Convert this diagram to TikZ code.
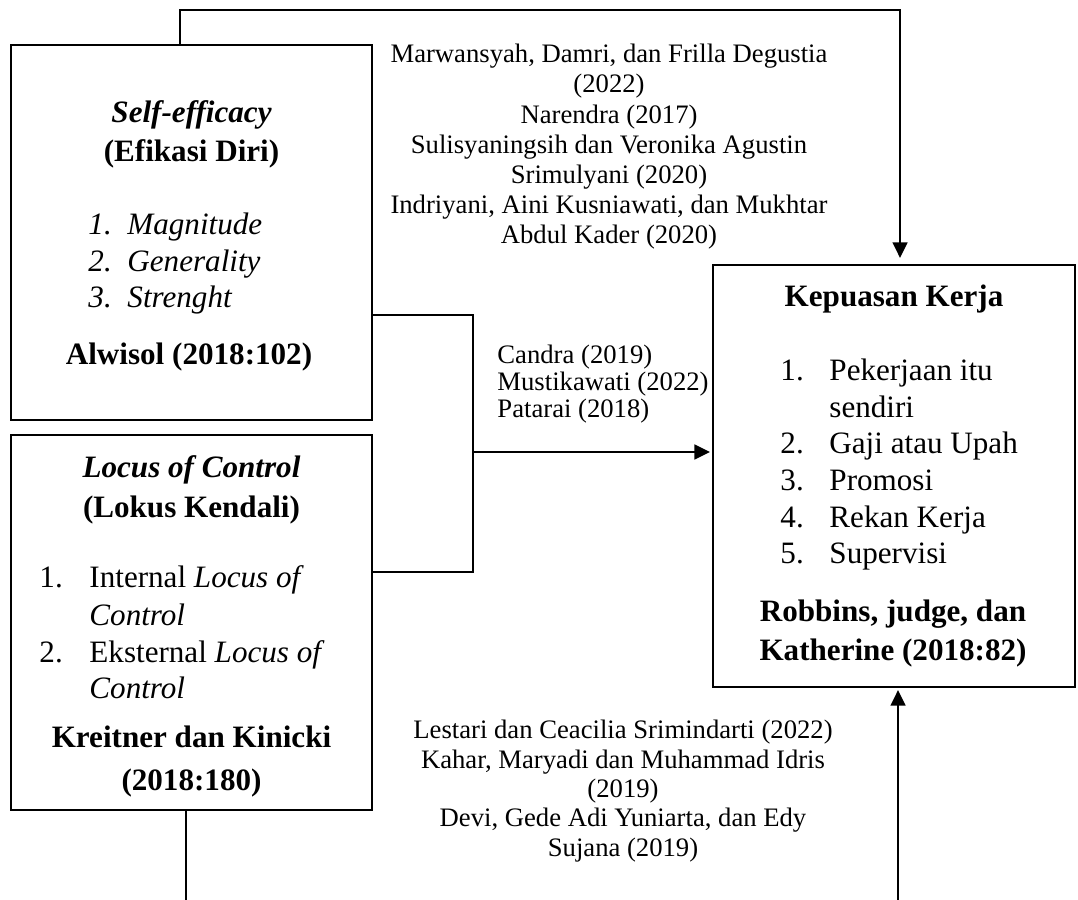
\documentclass[tikz,border=0pt]{standalone}
\usepackage{fontspec}
\setmainfont{Liberation Serif}
\usetikzlibrary{arrows.meta,positioning}

\tikzset{
  box/.style={draw,line width=1.3pt,inner sep=0pt},
  link/.style={line width=1.3pt},
  arr/.style={link,-{Triangle[length=7pt,width=6.5pt]}},
  big/.style={font=\fontsize{14}{16.65}\selectfont,inner sep=0pt},
  cite/.style={font=\fontsize{12}{13.6}\selectfont,inner sep=0pt},
}

\begin{document}
\begin{tikzpicture}
  [x=0.45pt,y=-0.45pt]
  \useasboundingbox (0,0) rectangle (1078,900);

  % boxes
  \node (se) [box,minimum width=162.45pt,minimum height=168.75pt] at (191.5,232.5) {};
  \node (lk) [box,minimum width=162.45pt,minimum height=168.75pt] at (191.5,622.5) {};
  \node (kk) [box,minimum width=162.9pt,minimum height=189.9pt] at (894,476) {};

  % self-efficacy
  \node (se1) [big,anchor=base] at (191.5,123) {\bfseries\itshape Self-efficacy};
  \node (se2) [big,anchor=base] at (191.5,162) {\bfseries (Efikasi Diri)};
  \foreach \n/\t/\y in {1/Magnitude/235,2/Generality/272,3/Strenght/308}{
    \node (sn\n) [big,anchor=base west] at (88,\y) {\itshape\n.};
    \node (st\n) [big,anchor=base west] at (127,\y) {\itshape\t};
  }
  \node (se3) [big,anchor=base] at (189,365) {\bfseries Alwisol (2018:102)};

  % locus of control
  \node (lk1) [big,anchor=base] at (191.5,477) {\bfseries\itshape Locus of Control};
  \node (lk2) [big,anchor=base] at (191.5,517) {\bfseries (Lokus Kendali)};
  \node (ln1) [big,anchor=base west] at (39,587) {1.};
  \node (lt1) [big,anchor=base west] at (89,587) {Internal \textit{Locus of}};
  \node (lc1) [big,anchor=base west] at (89,625) {\textit{Control}};
  \node (ln2) [big,anchor=base west] at (39,662) {2.};
  \node (lt2) [big,anchor=base west] at (89,662) {Eksternal \textit{Locus of}};
  \node (lc2) [big,anchor=base west] at (89,698) {\textit{Control}};
  \node (lk3) [big,anchor=base] at (191.5,747) {\bfseries Kreitner dan Kinicki};
  \node (lk4) [big,anchor=base] at (191.5,790) {\bfseries (2018:180)};

  % kepuasan kerja
  \node (kk1) [big,anchor=base] at (894,307) {\bfseries Kepuasan Kerja};
  \foreach \n/\t/\y in {1/Pekerjaan itu/381,2/Gaji atau Upah/453,3/Promosi/490,4/Rekan Kerja/527,5/Supervisi/563}{
    \node (kn\n) [big,anchor=base west] at (780,\y) {\n.};
    \node (kt\n) [big,anchor=base west] at (829,\y) {\t};
  }
  \node (kt0) [big,anchor=base west] at (829,417) {sendiri};
  \node (kk2) [big,anchor=base] at (893,621) {\bfseries Robbins, judge, dan};
  \node (kk3) [big,anchor=base] at (893,660) {\bfseries Katherine (2018:82)};

  % references (base = last line)
  \node (ref1) [cite,align=center,anchor=base] at (609,244)
    {Marwansyah, Damri, dan Frilla Degustia\\(2022)\\Narendra (2017)\\
     Sulisyaningsih dan Veronika Agustin\\Srimulyani (2020)\\
     Indriyani, Aini Kusniawati, dan Mukhtar\\Abdul Kader (2020)};
  \node (ref2) [cite,font=\fontsize{12}{12.2}\selectfont,align=left,anchor=base west] at (497,418)
    {Candra (2019)\\Mustikawati (2022)\\Patarai (2018)};
  \node (ref3) [cite,font=\fontsize{12}{13.2}\selectfont,align=center,anchor=base] at (623,856)
    {Lestari dan Ceacilia Srimindarti (2022)\\Kahar, Maryadi dan Muhammad Idris\\(2019)\\
     Devi, Gede Adi Yuniarta, dan Edy\\Sujana (2019)};

  % connectors
  \coordinate (tl) at (180,10);
  \coordinate (tr) at (900,10);
  \draw[arr,shorten >=2.5pt] (tl |- se.north) -- (tl) -- (tr) -- (tr |- kk.north);

  \coordinate (jt) at (473,315);
  \coordinate (jb) at (473,572);
  \coordinate (jm) at (473,452);
  \draw[link] (jt -| se.east) -- (jt) -- (jb) -- (jb -| lk.east);
  \draw[arr,shorten >=0.7pt] (jm) -- (jm -| kk.west);

  \coordinate (bl) at (186,900);
  \draw[link] (lk.south -| bl) -- (bl);
  \coordinate (br) at (898,900);
  \draw[arr,shorten >=0.7pt] (br) -- (br |- kk.south);
\end{tikzpicture}
\end{document}
